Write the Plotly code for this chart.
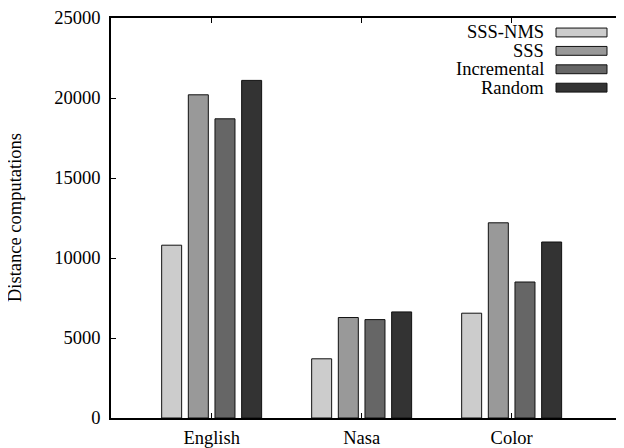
import plotly.graph_objects as go

categories = ["English", "Nasa", "Color"]
series_names = ["SSS-NMS", "SSS", "Incremental", "Random"]
sss_nms = [10800, 3700, 6550]
sss = [20200, 6280, 12200]
incremental = [18700, 6150, 8500]
random_ = [21100, 6630, 11000]
y_ticks = [0, 5000, 10000, 15000, 20000, 25000]

series_values = [sss_nms, sss, incremental, random_]
colors = ["#cccccc", "#999999", "#666666", "#333333"]

FONT = "Liberation Serif"
FS = 18.5

# page has an 8px body margin; figure is offset by it
OFF = 8
W = 616
H = 440
# plot area in page pixels
PL, PR, PT, PB = 111, 624, 14, 420


def px_x(px):
    return (px - PL) / (PR - PL)


def px_y(py):
    return (PB - py) / (PB - PT)


fig = go.Figure()
for name, vals, col in zip(series_names, series_values, colors):
    fig.add_trace(go.Bar(
        x=categories, y=vals, name=name,
        marker=dict(color=col, line=dict(color="#111111", width=1)),
        showlegend=False,
    ))

# gnuplot-style legend: right-aligned text then swatch
row_h = 18.67
top = 28.7
for i, (name, col) in enumerate(zip(series_names, colors)):
    yc = top + i * row_h
    fig.add_annotation(
        x=px_x(545), y=px_y(yc), xref="paper", yref="paper",
        text=name, showarrow=False, xanchor="right", yanchor="middle",
        borderpad=0,
        font=dict(family=FONT, size=FS, color="black"),
    )
    fig.add_shape(
        type="rect", xref="paper", yref="paper",
        x0=px_x(556), x1=px_x(607),
        y0=px_y(yc - 4.5), y1=px_y(yc + 4.5),
        fillcolor=col, line=dict(color="#111111", width=1),
    )

fig.add_annotation(
    x=0, y=0.5, xref="paper", yref="paper", text="Distance computations",
    textangle=-90, showarrow=False, xanchor="center", yanchor="middle",
    xshift=-96, font=dict(family=FONT, size=FS, color="black"),
)

fig.update_layout(
    width=W, height=H,
    margin=dict(l=PL - OFF, r=W - (PR - OFF), t=PT - OFF, b=H - (PB - OFF), pad=0),
    paper_bgcolor="white", plot_bgcolor="white",
    barmode="group", bargap=0.289, bargroupgap=0.25,
    font=dict(family=FONT, size=FS, color="black"),
)
fig.update_xaxes(
    type="category", range=[-0.671, 2.749],
    showline=True, linecolor="black", linewidth=1.5, mirror="ticks",
    ticks="inside", ticklen=5, tickcolor="black", tickwidth=1,
    showgrid=False, zeroline=False, ticklabelstandoff=2,
    ticklabeloverflow="allow",
    tickfont=dict(family=FONT, size=FS, color="black"),
)
fig.update_yaxes(
    range=[0, 25000], tickvals=y_ticks, ticktext=[str(v) for v in y_ticks],
    showline=True, linecolor="black", linewidth=1.5, mirror=False,
    ticks="inside", ticklen=5, tickcolor="black", tickwidth=1,
    showgrid=False, zeroline=False, ticklabelstandoff=5,
    ticklabeloverflow="allow",
    tickfont=dict(family=FONT, size=FS, color="black"),
)

fig.write_html("out.html")
